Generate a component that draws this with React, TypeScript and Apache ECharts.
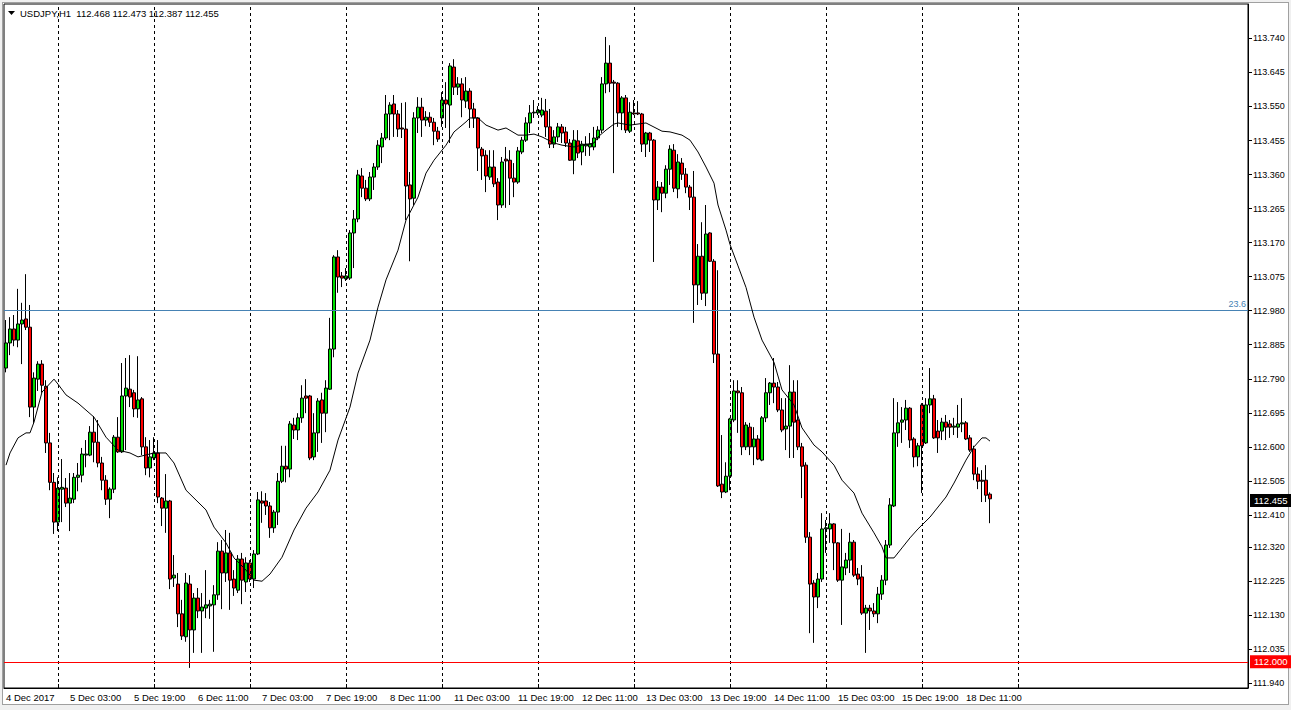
import React, { useEffect, useRef } from "react";
import * as echarts from "echarts";

// ---------- chart data ----------
const symbolName = "USDJPY,H1";

const xTickLabels = [
  "4 Dec 2017", "5 Dec 03:00", "5 Dec 19:00", "6 Dec 11:00", "7 Dec 03:00", "7 Dec 19:00",
  "8 Dec 11:00", "11 Dec 03:00", "11 Dec 19:00", "12 Dec 11:00", "13 Dec 03:00", "13 Dec 19:00",
  "14 Dec 11:00", "15 Dec 03:00", "15 Dec 19:00", "18 Dec 11:00",
];
const barsPerLabel = 16;
const totalSlots = 311;

const yTickLabels = [
  "111.940", "112.035", "112.130", "112.225", "112.320", "112.410", "112.505", "112.600",
  "112.695", "112.790", "112.885", "112.980", "113.075", "113.170", "113.265", "113.360",
  "113.455", "113.550", "113.645", "113.740",
];

const daySeparators = [13, 37, 61, 85, 109, 133, 157, 181, 205, 229, 253];

const fibLevel = 112.98;
const fibLabel = "23.6";
const roundLevel = 112.0;

const open = [
  112.820,112.890,112.929,112.898,112.943,112.957,112.934,112.711,112.789,112.831,
  112.769,112.611,112.501,112.390,112.482,112.485,112.443,112.454,112.515,112.521,
  112.577,112.577,112.641,112.613,112.555,112.507,112.454,112.482,112.627,112.586,
  112.742,112.761,112.751,112.706,112.734,112.600,112.541,112.569,112.583,112.457,
  112.429,112.449,112.234,112.217,112.134,112.070,112.217,112.089,112.178,112.142,
  112.150,112.156,112.159,112.187,112.309,112.248,112.304,112.231,112.200,112.287,
  112.223,112.276,112.231,112.301,112.449,112.449,112.435,112.374,112.418,112.504,
  112.546,112.538,112.661,112.647,112.681,112.742,112.742,112.572,112.639,112.731,
  112.694,112.761,112.873,113.130,113.077,113.069,113.071,113.197,113.236,113.356,
  113.322,113.292,113.353,113.381,113.437,113.462,113.529,113.557,113.529,113.490,
  113.487,113.331,113.294,113.518,113.548,113.512,113.520,113.506,113.481,113.518,
  113.568,113.554,113.660,113.604,113.613,113.565,113.593,113.543,113.518,113.431,
  113.414,113.353,113.381,113.339,113.275,113.403,113.400,113.350,113.339,113.423,
  113.456,113.504,113.532,113.532,113.526,113.537,113.493,113.445,113.465,113.493,
  113.479,113.448,113.400,113.454,113.423,113.440,113.437,113.437,113.462,113.484,
  113.613,113.671,113.618,113.615,113.532,113.574,113.481,113.532,113.532,113.529,
  113.445,113.476,113.456,113.289,113.325,113.308,113.375,113.428,113.320,113.392,
  113.361,113.325,113.297,113.052,113.132,113.029,113.197,113.118,112.859,112.496,
  112.474,112.518,112.675,112.756,112.751,112.600,112.655,112.600,112.622,112.563,
  112.681,112.751,112.778,112.767,112.703,112.650,112.658,112.753,112.675,112.600,
  112.549,112.348,112.220,112.181,112.231,112.371,112.371,112.385,112.332,112.228,
  112.262,112.284,112.334,112.245,112.237,112.136,112.150,112.142,112.134,112.189,
  112.228,112.326,112.435,112.639,112.669,112.675,112.708,112.622,112.572,112.717,
  112.611,112.717,112.734,112.644,112.644,112.669,112.664,112.655,112.655,112.664,
  112.667,112.625,112.594,112.524,112.507,112.507,112.468,
];

const high = [
  112.954,112.962,112.968,113.041,113.002,113.082,112.996,112.808,112.839,112.842,
  112.786,112.639,112.527,112.515,112.566,112.513,112.527,112.527,112.555,112.597,
  112.619,112.658,112.686,112.675,112.572,112.521,112.487,112.633,112.683,112.834,
  112.848,112.856,112.759,112.853,112.739,112.627,112.619,112.627,112.619,112.460,
  112.524,112.452,112.298,112.248,112.173,112.248,112.242,112.192,112.206,112.192,
  112.256,112.173,112.214,112.334,112.340,112.368,112.360,112.256,112.298,112.304,
  112.292,112.284,112.312,112.474,112.476,112.471,112.446,112.424,112.527,112.603,
  112.603,112.672,112.681,112.694,112.772,112.789,112.745,112.694,112.736,112.751,
  112.786,112.960,113.135,113.149,113.088,113.099,113.205,113.261,113.373,113.378,
  113.345,113.367,113.392,113.456,113.476,113.582,113.562,113.582,113.540,113.560,
  113.562,113.367,113.534,113.576,113.574,113.537,113.534,113.518,113.493,113.590,
  113.618,113.671,113.682,113.632,113.629,113.632,113.601,113.560,113.520,113.437,
  113.428,113.428,113.428,113.350,113.409,113.437,113.428,113.392,113.437,113.465,
  113.520,113.554,113.568,113.551,113.574,113.571,113.543,113.484,113.504,113.501,
  113.493,113.459,113.484,113.484,113.454,113.467,113.476,113.493,113.495,113.632,
  113.744,113.721,113.624,113.618,113.579,113.582,113.562,113.568,113.565,113.532,
  113.479,113.479,113.459,113.342,113.339,113.386,113.442,113.445,113.417,113.406,
  113.378,113.331,113.370,113.166,113.227,113.275,113.199,113.124,113.093,112.633,
  112.557,112.681,112.786,112.786,112.767,112.669,112.667,112.655,112.633,112.686,
  112.792,112.781,112.848,112.781,112.736,112.736,112.828,112.786,112.786,112.611,
  112.557,112.362,112.228,112.248,112.415,112.396,112.415,112.387,112.334,112.371,
  112.304,112.360,112.340,112.262,112.270,112.159,112.159,112.164,112.209,112.242,
  112.340,112.457,112.736,112.725,112.711,112.731,112.711,112.627,112.611,112.722,
  112.736,112.820,112.745,112.675,112.681,112.689,112.675,112.681,112.717,112.736,
  112.672,112.633,112.603,112.543,112.535,112.549,112.473,
];

const low = [
  112.808,112.856,112.881,112.878,112.831,112.926,112.683,112.667,112.756,112.751,
  112.583,112.479,112.357,112.365,112.390,112.432,112.365,112.443,112.476,112.501,
  112.543,112.574,112.557,112.543,112.479,112.438,112.401,112.471,112.583,112.583,
  112.591,112.711,112.683,112.681,112.577,112.521,112.515,112.563,112.443,112.379,
  112.360,112.203,112.209,112.097,112.061,112.056,111.983,112.025,112.122,112.025,
  112.122,112.120,112.028,112.173,112.147,112.223,112.145,112.184,112.192,112.161,
  112.195,112.223,112.206,112.298,112.388,112.410,112.346,112.360,112.382,112.499,
  112.501,112.515,112.622,112.619,112.667,112.694,112.563,112.563,112.586,112.611,
  112.641,112.759,112.850,113.030,113.046,113.063,113.066,113.099,113.227,113.297,
  113.286,113.286,113.317,113.373,113.392,113.456,113.456,113.465,113.465,113.462,
  113.233,113.118,113.275,113.476,113.465,113.495,113.493,113.442,113.451,113.493,
  113.490,113.448,113.582,113.582,113.520,113.546,113.490,113.490,113.370,113.345,
  113.311,113.345,113.325,113.233,113.267,113.267,113.275,113.297,113.334,113.417,
  113.451,113.476,113.518,113.526,113.520,113.465,113.434,113.434,113.451,113.448,
  113.437,113.398,113.361,113.406,113.386,113.412,113.412,113.428,113.456,113.476,
  113.587,113.590,113.364,113.493,113.484,113.476,113.476,113.526,113.526,113.423,
  113.409,113.423,113.116,113.261,113.255,113.294,113.331,113.311,113.294,113.345,
  113.308,113.261,112.946,112.996,113.010,112.993,113.116,112.834,112.488,112.457,
  112.471,112.479,112.669,112.639,112.577,112.591,112.577,112.549,112.563,112.560,
  112.669,112.717,112.722,112.697,112.641,112.591,112.569,112.569,112.591,112.457,
  112.332,112.080,112.053,112.150,112.223,112.304,112.332,112.256,112.223,112.103,
  112.242,112.248,112.237,112.214,112.131,112.025,112.089,112.125,112.108,112.173,
  112.214,112.318,112.432,112.600,112.611,112.647,112.597,112.543,112.546,112.471,
  112.608,112.694,112.622,112.583,112.619,112.619,112.625,112.633,112.625,112.641,
  112.619,112.586,112.507,112.482,112.446,112.446,112.387,
];

const close = [
  112.890,112.929,112.898,112.943,112.954,112.934,112.711,112.792,112.831,112.772,
  112.611,112.501,112.390,112.485,112.487,112.443,112.457,112.515,112.521,112.580,
  112.580,112.641,112.613,112.555,112.507,112.454,112.482,112.627,112.586,112.742,
  112.764,112.739,112.706,112.731,112.600,112.541,112.572,112.583,112.460,112.429,
  112.449,112.231,112.242,112.134,112.072,112.220,112.089,112.178,112.142,112.153,
  112.159,112.161,112.187,112.309,112.248,112.304,112.228,112.206,112.287,112.228,
  112.276,112.231,112.301,112.452,112.443,112.435,112.374,112.418,112.504,112.546,
  112.538,112.664,112.647,112.681,112.736,112.736,112.569,112.639,112.728,112.694,
  112.764,112.873,113.130,113.074,113.071,113.077,113.197,113.236,113.359,113.322,
  113.292,113.353,113.381,113.442,113.462,113.529,113.554,113.529,113.487,113.487,
  113.328,113.292,113.518,113.548,113.512,113.520,113.506,113.481,113.459,113.568,
  113.557,113.663,113.604,113.613,113.568,113.593,113.543,113.518,113.434,113.412,
  113.356,113.381,113.334,113.275,113.395,113.398,113.350,113.339,113.426,113.456,
  113.504,113.532,113.534,113.540,113.540,113.493,113.445,113.465,113.493,113.476,
  113.448,113.400,113.456,113.420,113.445,113.445,113.445,113.462,113.484,113.613,
  113.671,113.615,113.615,113.532,113.574,113.484,113.534,113.529,113.529,113.445,
  113.476,113.456,113.289,113.325,113.308,113.375,113.431,113.322,113.395,113.361,
  113.325,113.297,113.052,113.132,113.029,113.194,113.118,112.859,112.491,112.474,
  112.518,112.678,112.756,112.751,112.600,112.661,112.600,112.622,112.566,112.681,
  112.751,112.778,112.767,112.703,112.647,112.658,112.753,112.669,112.600,112.546,
  112.348,112.217,112.181,112.231,112.371,112.374,112.385,112.332,112.228,112.265,
  112.284,112.334,112.242,112.231,112.136,112.150,112.142,112.134,112.189,112.228,
  112.326,112.438,112.639,112.667,112.675,112.708,112.619,112.572,112.603,112.603,
  112.717,112.734,112.625,112.625,112.669,112.655,112.655,112.658,112.664,112.667,
  112.622,112.591,112.524,112.504,112.504,112.465,112.455,
];

// moving average line, read at bar indexes
const maIndex = [
  0,1,3,5,6,7,9,12,13,15,18,22,25,28,31,33,37,40,42,45,50,52,55,57,60,62,64,66,69,72,
  75,78,81,83,86,88,91,93,95,98,100,103,105,107,110,112,115,116,118,120,123,125,128,130,
  132,134,137,139,142,144,147,148,150,152,153,156,160,164,166,169,171,173,175,177,178,180,
  181,183,185,187,189,192,194,197,199,202,204,207,209,212,214,217,219,220,222,224,226,228,
  231,235,237,240,242,244,245,246,
];
const maValue = [
  112.549,112.583,112.625,112.639,112.639,112.669,112.753,112.789,112.775,112.745,112.722,
  112.683,112.627,112.591,112.583,112.572,112.583,112.583,112.555,112.479,112.424,112.376,
  112.332,112.290,112.256,112.228,112.225,112.245,112.292,112.368,112.429,112.474,112.535,
  112.619,112.711,112.806,112.898,112.990,113.066,113.149,113.233,113.297,113.364,113.400,
  113.442,113.479,113.507,113.518,113.518,113.498,113.484,113.490,113.470,113.470,113.473,
  113.465,113.448,113.442,113.437,113.442,113.448,113.465,113.484,113.501,113.504,113.498,
  113.504,113.481,113.479,113.470,113.456,113.423,113.381,113.336,113.275,113.205,113.165,
  113.105,113.045,112.962,112.898,112.836,112.759,112.717,112.653,112.605,112.586,112.549,
  112.507,112.471,112.415,112.360,112.321,112.290,112.290,112.318,112.346,112.371,112.404,
  112.460,112.499,112.563,112.600,112.625,112.625,112.616,
];

// ---------- presentation ----------
const FONT = "'Liberation Sans', Arial, sans-serif";
const BULL = "#00e000";
const BEAR = "#ff0000";
const Y_MIN = 111.927;
const Y_MAX = 113.836;

export default function App() {
  const ref = useRef<HTMLDivElement>(null);

  useEffect(() => {
    document.body.style.margin = "0";
    if (!ref.current) return;
    const chart = echarts.init(ref.current, null, { renderer: "svg" });

    const categories = Array.from({ length: totalSlots }, (_, i) => String(i));
    const candles = open.map((o, i) => [o, close[i], low[i], high[i]]);
    const maData = maIndex.map((idx, i) => [idx, maValue[i]]);
    const yTickValues = yTickLabels.map(Number);
    const last = open.length - 1;
    const header = `${symbolName}  ${open[last].toFixed(3)} ${high[last].toFixed(3)} ${low[last].toFixed(3)} ${close[last].toFixed(3)}`;

    const option: any = {
      animation: false,
      grid: {
        left: 4, top: 4, width: 1244, bottom: 22,
        show: true, borderColor: "#000", borderWidth: 1, backgroundColor: "#fff",
        containLabel: false, outerBoundsMode: "none",
      },
      graphic: [
        { type: "polygon", shape: { points: [[8, 11], [15, 11], [11.5, 15]] }, style: { fill: "#000" }, silent: true },
        {
          type: "text", x: 20, y: 13, silent: true,
          style: { text: header, fill: "#000", fontSize: 9.5, fontFamily: FONT, verticalAlign: "middle", align: "left" },
        },
      ],
      xAxis: {
        type: "category",
        data: categories,
        boundaryGap: true,
        axisLine: { show: true, lineStyle: { color: "#000", width: 1 } },
        axisTick: {
          show: true, inside: true, length: 4, alignWithLabel: true,
          interval: (i: number) => daySeparators.includes(i),
          lineStyle: { color: "#000" },
        },
        axisLabel: {
          show: true,
          interval: (i: number) => i % barsPerLabel === 0 && i / barsPerLabel < xTickLabels.length,
          formatter: (_v: string, i: number) => xTickLabels[Math.round(i / barsPerLabel)] ?? "",
          align: "left", color: "#000", fontSize: 9.5, fontFamily: FONT, margin: 4,
        },
        splitLine: { show: false },
      },
      yAxis: {
        type: "value", min: Y_MIN, max: Y_MAX, position: "right", scale: true,
        axisLine: { show: true, lineStyle: { color: "#000" } },
        axisTick: { show: true, length: 4, inside: false, customValues: yTickValues, lineStyle: { color: "#000" } },
        axisLabel: {
          show: true, customValues: yTickValues,
          color: "#000", fontSize: 9, fontFamily: FONT, margin: 5,
          formatter: (v: number) => {
            let best = 0;
            for (let k = 1; k < yTickValues.length; k++) {
              if (Math.abs(yTickValues[k] - v) < Math.abs(yTickValues[best] - v)) best = k;
            }
            return Math.abs(yTickValues[best] - v) < 0.002 ? yTickLabels[best] : "";
          },
        },
        splitLine: { show: false },
      },
      series: [
        {
          type: "candlestick",
          data: candles,
          barWidth: 3,
          silent: true,
          itemStyle: {
            color: BULL, color0: BEAR,
            borderColor: "#000", borderColor0: "#000", borderColorDoji: "#000",
            borderWidth: 1,
          },
          markLine: {
            silent: true, symbol: ["none", "none"], animation: false,
            data: [
              ...daySeparators.map((i) => ({
                xAxis: i,
                lineStyle: { color: "#000", width: 1, type: [3, 3] },
                label: { show: false },
              })),
              {
                yAxis: fibLevel,
                lineStyle: { color: "#4682b4", width: 1, type: "solid" },
                label: {
                  show: true, position: "insideEndTop", formatter: fibLabel,
                  color: "#4682b4", fontSize: 9, fontFamily: FONT, distance: 2,
                },
              },
              {
                yAxis: roundLevel,
                lineStyle: { color: "#ff0000", width: 1, type: "solid" },
                label: {
                  show: true, position: "end", formatter: roundLevel.toFixed(3),
                  color: "#fff", backgroundColor: "#ff0000", padding: [2, 4, 1, 4],
                  fontSize: 9.5, fontFamily: FONT, distance: 2,
                },
              },
              {
                yAxis: close[last],
                lineStyle: { color: "rgba(0,0,0,0)", width: 1, type: "solid" },
                label: {
                  show: true, position: "end", formatter: close[last].toFixed(3),
                  color: "#fff", backgroundColor: "#000", padding: [2, 4, 1, 4],
                  fontSize: 9.5, fontFamily: FONT, distance: 2,
                },
              },
            ],
          },
        },
        {
          type: "line",
          data: maData,
          symbol: "none",
          silent: true,
          z: 5,
          lineStyle: { color: "#000", width: 1 },
        },
      ],
    };

    chart.setOption(option);
    return () => chart.dispose();
  }, []);

  return (
    <div style={{ position: "absolute", left: 0, top: 0, width: 1291, height: 710, background: "#f0f0f0" }}>
      <div
        style={{
          position: "absolute", left: 2, top: 2, width: 1287, height: 703,
          background: "#fff", border: "1px solid #a0a0a0", boxSizing: "border-box",
        }}
      />
      <div ref={ref} style={{ position: "absolute", left: 0, top: 0, width: 1291, height: 710 }} />
    </div>
  );
}
